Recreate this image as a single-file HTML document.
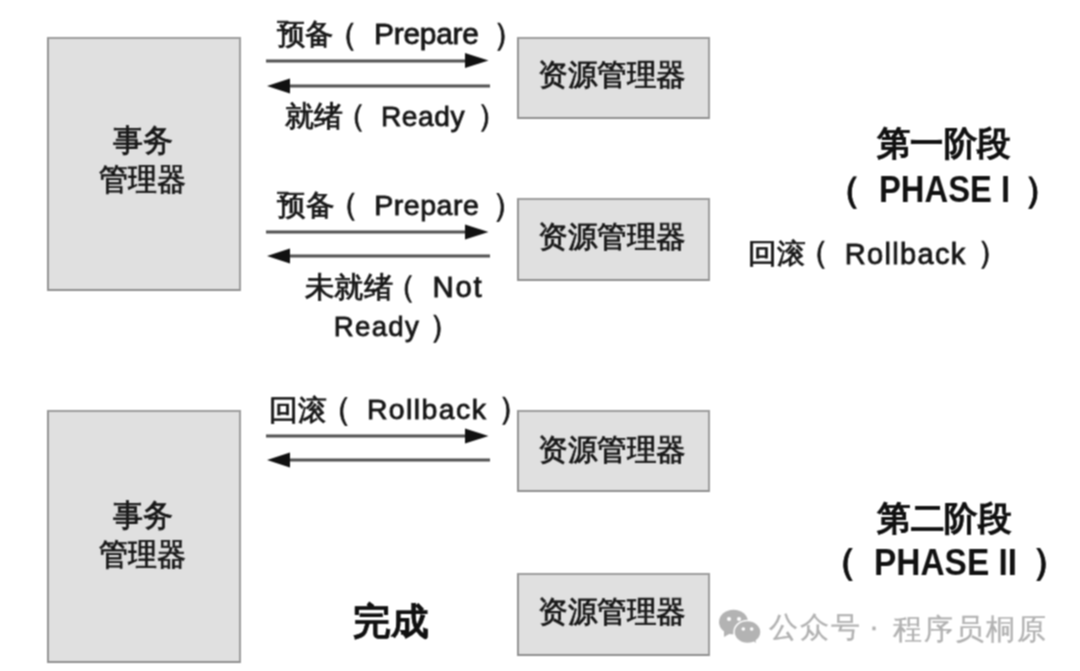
<!DOCTYPE html>
<html><head><meta charset="utf-8">
<style>
html,body{margin:0;padding:0;background:#fff;}
body{width:1080px;height:671px;position:relative;overflow:hidden;font-family:"Liberation Sans",sans-serif;color:#1e1e1e;}
.box{position:absolute;box-sizing:border-box;background:#e0e0e0;border:2px solid #9c9c9c;border-left-color:#929292;border-bottom-color:#8e8e8e;}
.t{position:absolute;transform-origin:0 0;white-space:nowrap;line-height:1;-webkit-text-stroke:0.8px #161616;color:#161616;}
.b{-webkit-text-stroke:0.3px #111;color:#111;}
.wm{color:#b0b0b0;-webkit-text-stroke:0.3px #b0b0b0;}
.lat{-webkit-text-stroke:0.8px #161616;}
.b.lat{-webkit-text-stroke:0;}
.b{font-weight:bold;}
svg{position:absolute;left:0;top:0;}
#wrap{position:absolute;left:0;top:0;width:1080px;height:671px;background:#fff;filter:url(#soft);}
</style></head><body><svg width="0" height="0" style="position:absolute"><defs><filter id="soft" color-interpolation-filters="sRGB" x="0" y="0" width="100%" height="100%"><feConvolveMatrix order="3" kernelMatrix="1 2 1 2 4 2 1 2 1" divisor="16" edgeMode="duplicate" preserveAlpha="false"/></filter></defs></svg><div id="wrap">
<div class="box" style="left:47px;top:37px;width:194px;height:254px;"></div>
<div class="box" style="left:47px;top:410px;width:194px;height:253px;"></div>
<div class="box" style="left:517px;top:37px;width:193px;height:82px;"></div>
<div class="box" style="left:517px;top:198px;width:193px;height:83px;"></div>
<div class="box" style="left:517px;top:410px;width:193px;height:82px;"></div>
<div class="box" style="left:517px;top:573px;width:193px;height:83px;"></div>
<div class="t" style="left:112.8px;top:124.9px;font-size:31.37px;transform:scaleX(0.9683);">事务</div>
<div class="t" style="left:98.5px;top:164.2px;font-size:31.18px;transform:scaleX(0.9356);">管理器</div>
<div class="t" style="left:112.8px;top:500.1px;font-size:30.63px;transform:scaleX(0.9683);">事务</div>
<div class="t" style="left:98.5px;top:538.6px;font-size:31.29px;transform:scaleX(0.9356);">管理器</div>
<div class="t" style="left:538.2px;top:60.0px;font-size:30.31px;transform:scaleX(0.987);">资源管理器</div>
<div class="t" style="left:538.2px;top:222.2px;font-size:30.21px;transform:scaleX(0.987);">资源管理器</div>
<div class="t" style="left:538.2px;top:435.2px;font-size:30.21px;transform:scaleX(0.987);">资源管理器</div>
<div class="t" style="left:538.2px;top:596.7px;font-size:30.31px;transform:scaleX(0.987);">资源管理器</div>
<div class="t" style="left:277.2px;top:19.6px;font-size:29.16px;transform:scaleX(0.9754);">预备</div>
<div class="t" style="left:326.2px;top:18.8px;font-size:31.63px;">（</div>
<div class="t lat" style="left:374.1px;top:19.4px;font-size:29.86px;letter-spacing:-0.233px;">Prepare</div>
<div class="t" style="left:492.8px;top:18.1px;font-size:31.98px;">）</div>
<div class="t" style="left:284.8px;top:102.4px;font-size:29.26px;transform:scaleX(1.0018);">就绪</div>
<div class="t" style="left:334.7px;top:100.1px;font-size:31.05px;">（</div>
<div class="t lat" style="left:380.9px;top:102.5px;font-size:28.12px;letter-spacing:0.625px;">Ready</div>
<div class="t" style="left:476.5px;top:99.9px;font-size:31.28px;">）</div>
<div class="t" style="left:277.2px;top:191.0px;font-size:29.26px;transform:scaleX(0.9842);">预备</div>
<div class="t" style="left:326.8px;top:188.1px;font-size:32.33px;">（</div>
<div class="t lat" style="left:374.2px;top:191.3px;font-size:28.55px;letter-spacing:0.525px;">Prepare</div>
<div class="t" style="left:492.1px;top:187.6px;font-size:33.02px;">）</div>
<div class="t" style="left:305.3px;top:273.2px;font-size:29.26px;transform:scaleX(1.0129);">未就绪</div>
<div class="t" style="left:385.2px;top:271.9px;font-size:30.7px;">（</div>
<div class="t lat" style="left:432.4px;top:271.5px;font-size:29.28px;letter-spacing:1.9px;">Not</div>
<div class="t lat" style="left:333.8px;top:313.3px;font-size:27.54px;letter-spacing:1.325px;">Ready</div>
<div class="t" style="left:428.9px;top:310.2px;font-size:32.21px;">）</div>
<div class="t" style="left:269.4px;top:395.8px;font-size:28.65px;">回滚</div>
<div class="t" style="left:319.3px;top:392.2px;font-size:33.02px;">（</div>
<div class="t lat" style="left:366.9px;top:395.4px;font-size:28.41px;letter-spacing:1.429px;">Rollback</div>
<div class="t" style="left:498.0px;top:393.2px;font-size:31.86px;">）</div>
<div class="t" style="left:747.9px;top:239.3px;font-size:28.44px;transform:scaleX(1.0264);">回滚</div>
<div class="t" style="left:797.3px;top:237.4px;font-size:31.74px;">（</div>
<div class="t lat" style="left:844.7px;top:239.9px;font-size:28.99px;letter-spacing:1.357px;">Rollback</div>
<div class="t" style="left:976.5px;top:236.9px;font-size:31.86px;">）</div>
<div class="t b" style="left:352.9px;top:604.0px;font-size:36.86px;transform:scaleX(1.0181);">完成</div>
<div class="t b" style="left:876.9px;top:125.7px;font-size:34.34px;transform:scaleX(0.9801);">第一阶段</div>
<div class="t b" style="left:824.8px;top:171.8px;font-size:36.07px;">（</div>
<div class="t b lat" style="left:878.7px;top:171.0px;font-size:37.68px;transform:scaleX(0.8694);">PHASE I</div>
<div class="t b" style="left:1023.6px;top:171.8px;font-size:36.07px;">）</div>
<div class="t b" style="left:876.9px;top:500.7px;font-size:34.34px;transform:scaleX(0.9853);">第二阶段</div>
<div class="t b" style="left:820.1px;top:544.1px;font-size:36.63px;">（</div>
<div class="t b lat" style="left:874.2px;top:544.8px;font-size:36.81px;transform:scaleX(0.9085);">PHASE II</div>
<div class="t b" style="left:1031.6px;top:544.1px;font-size:36.63px;">）</div>
<div class="t wm" style="left:769.1px;top:613.1px;font-size:29.2px;letter-spacing:2.15px;">公众号</div>
<div class="t wm" style="left:869.1px;top:611.0px;font-size:30.0px;">·</div>
<div class="t wm" style="left:892.5px;top:614.6px;font-size:29.2px;letter-spacing:2.025px;">程序员桐原</div>
<svg width="1080" height="671" viewBox="0 0 1080 671">
  <g stroke="#505050" stroke-width="3" fill="#111">
    <line x1="266" y1="61" x2="468" y2="61"/>
    <line x1="290" y1="86" x2="490" y2="86"/>
    <line x1="266" y1="232" x2="468" y2="232"/>
    <line x1="290" y1="256" x2="490" y2="256"/>
    <line x1="266" y1="436" x2="468" y2="436"/>
    <line x1="290" y1="460" x2="490" y2="460"/>
  </g>
  <g fill="#111">
    <path d="M465 53 L488.5 60.5 L465 68 Z"/>
    <path d="M290 78.5 L267 86 L290 93.5 Z"/>
    <path d="M465 224.5 L488.5 232 L465 239.5 Z"/>
    <path d="M290 248.5 L267 256 L290 263.5 Z"/>
    <path d="M465 428.5 L488.5 436 L465 443.5 Z"/>
    <path d="M290 452.5 L267 460 L290 467.5 Z"/>
  </g>
  <g fill="#b3b3b3">
    <ellipse cx="733.5" cy="622" rx="14.5" ry="12.3"/>
    <path d="M724 631 L724 637 L731 633 Z"/>
    <ellipse cx="747.5" cy="632" rx="13.5" ry="11.5" stroke="#fff" stroke-width="1.5"/>
    <path d="M752 640 L756 643 L755 637 Z"/>
  </g>
  <g fill="#fff">
    <circle cx="729" cy="619" r="2"/><circle cx="739" cy="619" r="2"/>
    <circle cx="743.3" cy="629" r="1.8"/><circle cx="751.7" cy="629" r="1.8"/>
  </g>
</svg>
</div></body></html>
